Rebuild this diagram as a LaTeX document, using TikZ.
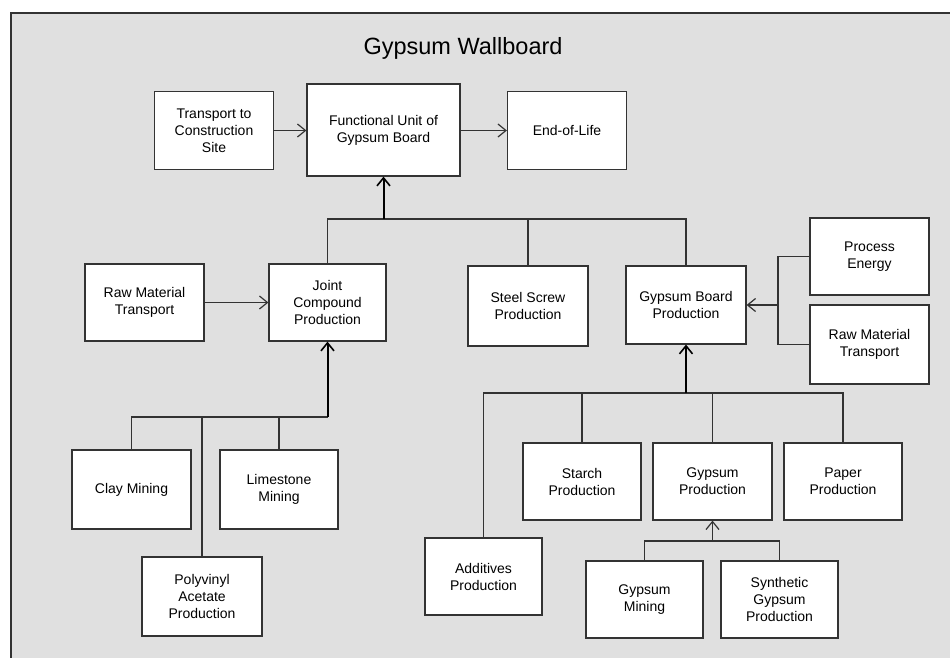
\documentclass[tikz,border=0pt]{standalone}
\usepackage{fontspec}
\setmainfont{Liberation Sans}
\usetikzlibrary{arrows.meta}
\definecolor{bggray}{HTML}{E0E0E0}
\definecolor{linegray}{HTML}{333333}
\tikzset{
  box/.style={draw=linegray, fill=white, line width=1.2pt, rectangle, align=center, inner sep=1pt,
    minimum width=119pt, minimum height=78pt, font=\fontsize{14}{17}\selectfont},
  conn/.style={draw=linegray, line width=1.2pt},
  flow/.style={conn, -{Straight Barb[length=8pt,width=13pt,line width=1.2pt]}},
  boldflow/.style={draw=black, line width=2pt, -{Straight Barb[length=8pt,width=13pt,line width=1.6pt]}},
}
\begin{document}
\begin{tikzpicture}[x=1pt,y=-1pt]
\useasboundingbox (0,0) rectangle (950,658);
\fill[white] (0,0) rectangle (950,658);
\begin{scope}
\clip (0,0) rectangle (950,658);
\draw[fill=bggray, draw=linegray, line width=1.2pt] (11,13) rectangle (970,680);
\end{scope}
\node[anchor=base, font=\fontsize{23.5}{28}\selectfont] (title) at (463,55) {Gypsum Wallboard};

% top row
\node[box] (trans) at (214,130.5) {Transport to\\Construction\\Site};
\node[box, minimum width=153pt, minimum height=92pt] (func) at (383.5,130) {Functional Unit of\\Gypsum Board};
\node[box] (eol) at (567,130.5) {End-of-Life};

% second row
\node[box, minimum height=77pt] (rawL) at (144.5,302.5) {Raw Material\\Transport};
\node[box, minimum width=117pt, minimum height=77pt] (joint) at (327.5,302.5) {Joint\\Compound\\Production};
\node[box, minimum width=120pt, minimum height=80pt] (steel) at (528,306) {Steel Screw\\Production};
\node[box, minimum width=120pt] (gbp) at (686,305) {Gypsum Board\\Production};
\node[box, minimum height=77pt] (energy) at (869.5,256.5) {Process\\Energy};
\node[box, minimum height=79pt] (rawR) at (869.5,344.5) {Raw Material\\Transport};

% joint compound inputs
\node[box, minimum height=79pt] (clay) at (131.5,489.5) {Clay Mining};
\node[box, minimum width=118pt, minimum height=79pt] (lime) at (279,489.5) {Limestone\\Mining};
\node[box, minimum width=120pt, minimum height=79pt] (pva) at (202,596.5) {Polyvinyl\\Acetate\\Production};

% gypsum board inputs
\node[box, minimum width=117pt, minimum height=77pt] (add) at (483.5,576.5) {Additives\\Production};
\node[box, minimum width=118pt, minimum height=77pt] (starch) at (582,481.5) {Starch\\Production};
\node[box, minimum height=77pt] (gyp) at (712.5,481.5) {Gypsum\\Production};
\node[box, minimum width=118pt, minimum height=77pt] (paper) at (843,481.5) {Paper\\Production};
\node[box, minimum width=117pt, minimum height=77pt] (gmin) at (644.5,599.5) {Gypsum\\Mining};
\node[box, minimum width=117pt, minimum height=77pt] (synth) at (779.5,599.5) {Synthetic\\Gypsum\\Production};

% bus points
\coordinate (bA) at (383.5,219);
\coordinate (bB) at (327.5,417);
\coordinate (bC) at (778,305);
\coordinate (bD) at (686,393);
\coordinate (bE) at (712.5,541);

% top row flows
\draw[flow] (trans.east) -- (trans.east -| func.west);
\draw[flow] (func.east |- eol.west) -- (eol.west);

% into functional unit
\draw[conn] (joint.north) |- (bA);
\draw[conn] (steel.north) -- (steel.north |- bA);
\draw[conn] (gbp.north) |- (bA);
\draw[boldflow] (bA) -- (func.south);

% into joint compound
\draw[flow] (rawL.east) -- (rawL.east -| joint.west);
\draw[conn] (clay.north) |- (bB);
\draw[conn] (pva.north) -- (pva.north |- bB);
\draw[conn] (lime.north) -- (lime.north |- bB);
\draw[boldflow] (bB) -- (joint.south);

% into gypsum board
\draw[conn] (energy.west) -| (bC);
\draw[conn] (rawR.west) -| (bC);
\draw[flow] (bC) -- (gbp.east);
\draw[conn] (add.north) |- (bD);
\draw[conn] (starch.north) -- (starch.north |- bD);
\draw[conn] (gyp.north) -- (gyp.north |- bD);
\draw[conn] (paper.north) |- (bD);
\draw[boldflow] (bD) -- (gbp.south);

% into gypsum production
\draw[conn] (gmin.north) |- (bE);
\draw[conn] (synth.north) |- (bE);
\draw[flow, line width=1.5pt] (bE) -- (gyp.south);
\end{tikzpicture}
\end{document}
